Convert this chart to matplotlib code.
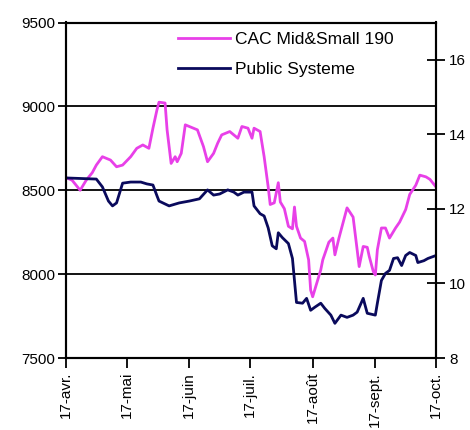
import matplotlib
matplotlib.use("Agg")
import matplotlib.pyplot as plt
import numpy as np


START = np.datetime64("2007-04-17")

# CAC Mid&Small 190 (left axis), days since 17 April
cac_days = [0, 3, 7, 10, 13, 15, 18, 22, 25, 28, 32, 35, 38, 41, 43, 45, 46, 49,
            50, 52, 54, 55, 57, 59, 61, 65, 68, 70, 73, 75, 77, 81, 85, 87, 90,
            92, 93, 96, 98, 100, 101, 103, 105, 106, 108, 110, 112, 113, 114,
            116, 118, 120, 121, 122, 123, 126, 127, 130, 132, 133, 135, 137,
            139, 142, 144, 145, 147, 149, 150, 152, 153, 154, 156, 158, 160,
            163, 165, 168, 170, 173, 175, 178, 180, 183]
cac_values = [8575, 8560, 8500, 8560, 8605, 8650, 8700, 8680, 8640, 8650, 8700,
              8750, 8770, 8750, 8870, 8980, 9025, 9020, 8860, 8660, 8700, 8670,
              8720, 8890, 8880, 8860, 8760, 8670, 8720, 8780, 8830, 8850, 8810,
              8880, 8870, 8810, 8870, 8850, 8700, 8520, 8415, 8425, 8545, 8430,
              8390, 8285, 8270, 8400, 8285, 8215, 8195, 8085, 7905, 7865, 7905,
              8025, 8085, 8190, 8215, 8115, 8215, 8305, 8395, 8340, 8145, 8045,
              8165, 8160, 8105, 8015, 7995, 8145, 8275, 8275, 8215, 8275, 8310,
              8385, 8475, 8530, 8590, 8580, 8565, 8520]

# Public Systeme share price (right axis)
ps_days = [0, 15, 18, 21, 23, 25, 28, 32, 37, 40, 43, 45, 46, 51, 56, 61, 66,
           70, 73, 76, 80, 83, 85, 88, 92, 93, 96, 98, 100, 102, 104, 105, 107,
           110, 112, 113, 114, 117, 119, 121, 123, 126, 128, 131, 133, 136, 139,
           142, 144, 147, 149, 153, 154, 156, 158, 160, 162, 164, 166, 168, 170,
           173, 174, 177, 179, 183]
ps_values = [12.83, 12.80, 12.59, 12.21, 12.08, 12.16, 12.69, 12.72, 12.72,
             12.67, 12.64, 12.35, 12.21, 12.08, 12.16, 12.21, 12.27, 12.51,
             12.37, 12.40, 12.51, 12.45, 12.37, 12.45, 12.45, 12.08, 11.87,
             11.81, 11.49, 11.01, 10.93, 11.36, 11.23, 11.07, 10.67, 10.08,
             9.49, 9.47, 9.60, 9.28, 9.36, 9.47, 9.33, 9.15, 8.93, 9.15, 9.09,
             9.15, 9.23, 9.60, 9.20, 9.15, 9.47, 10.08, 10.27, 10.35, 10.67,
             10.69, 10.48, 10.75, 10.83, 10.75, 10.56, 10.61, 10.67, 10.75]

tick_days = [0, 30, 61, 91, 122, 153, 183]
tick_labels = ["17-avr.", "17-mai", "17-juin", "17-juil.", "17-août",
               "17-sept.", "17-oct."]

PINK = "#e840e8"
NAVY = "#0a0a5c"

plt.rcParams["font.family"] = ["Liberation Sans", "DejaVu Sans"]

fig = plt.figure(figsize=(4.7, 4.3), dpi=100)
ax = fig.add_axes([66 / 470, 1 - 358 / 430, 370 / 470, 335.5 / 430])
ax2 = ax.twinx()

cac_dates = START + np.array(cac_days).astype("timedelta64[D]")
ps_dates = START + np.array(ps_days).astype("timedelta64[D]")
tick_dates = START + np.array(tick_days).astype("timedelta64[D]")

line1, = ax.plot(cac_dates, cac_values, color=PINK, lw=2,
                 label="CAC Mid&Small 190")
line2, = ax2.plot(ps_dates, ps_values, color=NAVY, lw=2,
                  label="Public Systeme")

ax.set_xlim(tick_dates[0], tick_dates[-1])
ax.set_ylim(7500, 9500)
ax.set_yticks(np.arange(7500, 9501, 500))
ax2.set_ylim(8, 17)
ax2.set_yticks(np.arange(8, 17, 2))

ax.set_xticks(tick_dates)
ax.set_xticklabels(tick_labels, rotation=90, va="top", ha="center")

for y in (8000, 8500, 9000):
    ax.axhline(y, color="black", lw=1.3, zorder=0)

for a in (ax, ax2):
    for s in a.spines.values():
        s.set_linewidth(1.5)
        s.set_color("black")

ax.tick_params(axis="y", direction="out", length=6, width=1.3,
               labelsize=11, pad=2)
ax.tick_params(axis="x", direction="out", length=7, width=1.3,
               labelsize=11, pad=3)
ax2.tick_params(axis="y", direction="inout", length=13, width=1.3,
                labelsize=11, pad=3)

fig.legend(handles=[line1, line2], loc="upper left",
           bbox_to_anchor=(178 / 470, 1 - 32 / 430), frameon=False,
           fontsize=12.5, handlelength=3.0, handletextpad=0.3,
           labelspacing=0.85, borderpad=0, borderaxespad=0)

fig.savefig("out.png", dpi=100)
